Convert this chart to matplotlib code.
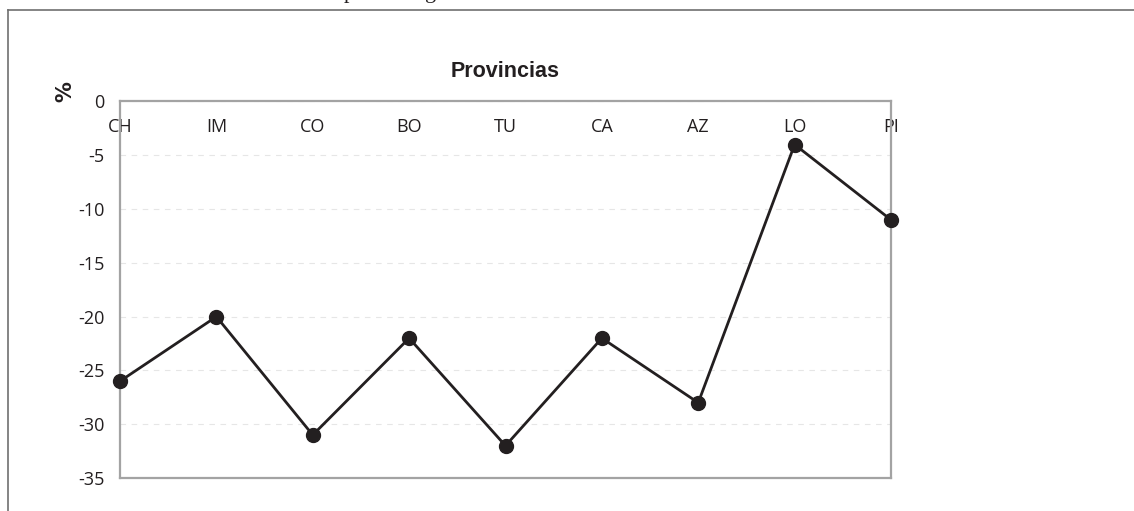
import matplotlib
matplotlib.use("Agg")
import matplotlib.pyplot as plt
from matplotlib.lines import Line2D

categories = ["CH", "IM", "CO", "BO", "TU", "CA", "AZ", "LO", "PI"]
values = [-26, -20, -31, -22, -32, -22, -28, -4, -11]
yticks = [0, -5, -10, -15, -20, -25, -30, -35]

W, H = 1134, 511
fig = plt.figure(figsize=(W / 100, H / 100), dpi=100)
fig.patch.set_facecolor("white")

left, right, top, bottom = 120, 891, 101.5, 478
ax = fig.add_axes([left / W, 1 - bottom / H, (right - left) / W, (bottom - top) / H])

txt = "#231f20"
x = list(range(len(categories)))
ax.plot(x, values, color=txt, lw=2.0, marker="o", markersize=10,
        markerfacecolor=txt, markeredgecolor=txt, clip_on=False, zorder=5)

ax.set_xlim(0, len(categories) - 1)
ax.set_ylim(-35, 0)
ax.set_yticks(yticks)
ax.set_yticklabels([str(v) for v in yticks])
ax.set_xticks(x)
ax.set_xticklabels(categories)

font = "Open Sans"
ax.tick_params(axis="x", bottom=False, labelbottom=False, top=True, labeltop=True,
               length=0, pad=-24.5, labelsize=13, labelcolor=txt)
ax.tick_params(axis="y", length=0, pad=11, labelsize=13, labelcolor=txt)
for lab in ax.get_xticklabels() + ax.get_yticklabels():
    lab.set_fontfamily(font)

for s in ax.spines.values():
    s.set_color("#a3a3a3")
    s.set_linewidth(1.6)

ax.yaxis.grid(True, color="#e6e6e6", linestyle=(0, (5, 5)), linewidth=0.8)
ax.set_axisbelow(True)

ax.set_title("Provincias", fontsize=15.5, fontweight="bold", family="Liberation Sans",
             color=txt, pad=17.6)
ax.set_ylabel("%", rotation=90, fontsize=15, fontweight="bold", color=txt,
              family="DejaVu Sans")
ax.yaxis.set_label_coords((75 - left) / (right - left), (bottom - 92) / (bottom - top))

# outer frame (partial)
fy = 1 - 10 / H
fx = 8 / W
fig.add_artist(Line2D([fx, 1.0], [fy, fy], transform=fig.transFigure,
                      color="#707070", lw=1.2))
fig.add_artist(Line2D([fx, fx], [0, fy], transform=fig.transFigure,
                      color="#707070", lw=1.2))

# clipped text above the frame
fig.text(349 / W, 1 + 2 / H, "p", family="Liberation Serif", fontsize=16,
         ha="center", va="baseline", color=txt)
fig.text(431 / W, 1 + 2 / H, "g", family="Liberation Serif", fontsize=16,
         ha="center", va="baseline", color=txt)

fig.savefig("out.png", dpi=100, facecolor="white")
